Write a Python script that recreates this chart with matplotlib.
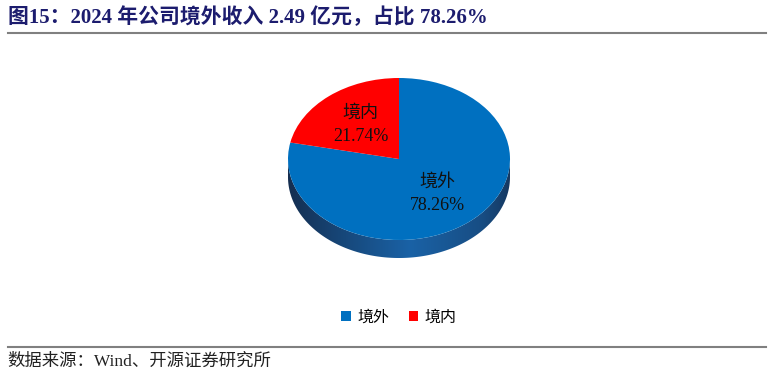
import numpy as np
import matplotlib.pyplot as plt
from matplotlib.patches import Patch, Polygon
from matplotlib.lines import Line2D

# data
labels = ['境外', '境内']
shares = [78.26, 21.74]
colors = ['#0070C0', '#FF0000']
title = '图15：2024 年公司境外收入 2.49 亿元，占比 78.26%'
source = '数据来源：Wind、开源证券研究所'

plt.rcParams['font.family'] = ['Liberation Serif', 'Noto Sans CJK SC', 'DejaVu Sans']

fig = plt.figure(figsize=(7.74, 3.77), dpi=100)
ax = fig.add_axes([0, 0, 1, 1])

depth = 18 / 81  # thickness of the pie, in y units

# side of the pie: shaded band under the front half
th = np.linspace(np.pi, 2 * np.pi, 200)
top = np.column_stack([np.cos(th), np.sin(th)])
bot = np.column_stack([np.cos(th[::-1]), np.sin(th[::-1]) - depth])
side = Polygon(np.vstack([top, bot]), closed=True, facecolor='none', edgecolor='none')
ax.add_patch(side)
xs = np.linspace(-1, 1, 300)
shade = np.interp(xs, [-1, -0.6, 0.1, 0.75, 1], [0.0, 0.4, 1.0, 0.6, 0.2])
c0 = np.array([0x14, 0x2e, 0x50]) / 255
c1 = np.array([0x1a, 0x62, 0xa6]) / 255
img = c0[None, :] + (c1 - c0)[None, :] * shade[:, None]
img = np.repeat(img[None, :, :], 2, axis=0)
im = ax.imshow(img, extent=[-1, 1, -1 - depth, 0], aspect='auto', zorder=1, interpolation='bilinear')
im.set_clip_path(side)

# top face
wedges, texts, autotexts = ax.pie(
    shares, colors=colors, startangle=90, counterclock=False,
    autopct=lambda p: '', pctdistance=0.55,
    wedgeprops=dict(linewidth=0))
for w in wedges:
    w.set_zorder(2)
for t, lab, v in zip(autotexts, labels, shares):
    t.set_text(f'{lab}\n{v:.2f}%')
    t.set_fontsize(13)
    t.set_color('#111111')
    t.set_linespacing(1.5)
    t.set_zorder(3)

# stretch the circle into an ellipse
ax.set_aspect('auto')
ax.set_xlim(-399 / 111, (774 - 399) / 111)
ax.set_ylim(-218 / 81, 159 / 81)
ax.axis('off')

# title, rules, source
fig.text(0.010, 1 - 18 / 377, title, fontsize=15, fontweight='bold', color='#1c1c6e', va='center', ha='left')
fig.add_artist(Line2D([8 / 774, 766 / 774], [1 - 33 / 377] * 2, color='#808080', lw=1.5))
fig.add_artist(Line2D([8 / 774, 766 / 774], [1 - 347 / 377] * 2, color='#808080', lw=1.5))
fig.text(0.010, 1 - 362 / 377, source, fontsize=12.5, color='#222222', va='center', ha='left')

handles = [Patch(facecolor=c, edgecolor='none') for c in colors]
fig.legend(handles, labels, loc='center', bbox_to_anchor=(399 / 774, 1 - 318 / 377),
           ncol=2, frameon=False, fontsize=11.5, handlelength=0.6, handleheight=0.6,
           handletextpad=0.4, columnspacing=1.2)

fig.savefig('out.png', dpi=100)
